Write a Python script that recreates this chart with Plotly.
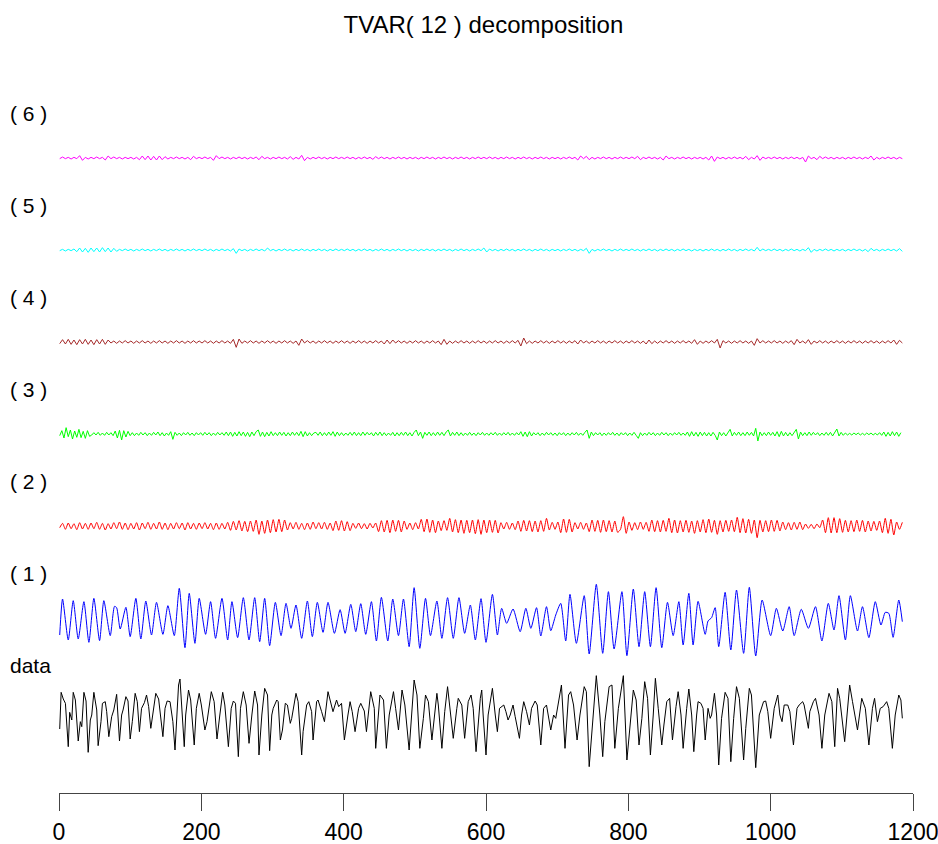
import plotly.graph_objects as go

# ---------------- data ----------------
series_names = ["data", "( 1 )", "( 2 )", "( 3 )", "( 4 )", "( 5 )", "( 6 )"]
x_ticks = [0, 200, 400, 600, 800, 1000, 1200]

black_t = [
    1, 3, 6, 9, 13, 15, 18, 20, 23, 27,
    30, 32, 35, 38, 41, 44, 46, 49, 53, 55,
    59, 61, 65, 67, 70, 74, 77, 81, 85, 88,
    90, 94, 97, 100, 103, 107, 110, 113, 116, 120,
    123, 126, 129, 133, 136, 140, 146, 149, 152, 156,
    160, 163, 168, 170, 173, 176, 178, 182, 185, 190,
    193, 197, 200, 205, 208, 214, 218, 222, 226, 230,
    233, 238, 242, 245, 248, 252, 255, 259, 263, 267,
    271, 275, 279, 281, 285, 289, 293, 296, 299, 301,
    306, 308, 311, 314, 318, 321, 325, 327, 333, 336,
    341, 343, 348, 351, 355, 357, 362, 364, 369, 373,
    378, 382, 385, 390, 393, 397, 401, 406, 409, 412,
    416, 421, 424, 429, 432, 438, 443, 445, 451, 456,
    460, 464, 470, 473, 477, 482, 486, 492, 499, 503,
    507, 512, 515, 519, 524, 531, 533, 538, 542, 546,
    549, 554, 559, 561, 566, 570, 575, 579, 582, 586,
    592, 594, 596, 600, 603, 609, 613, 616, 619, 622,
    625, 628, 631, 634, 638, 641, 647, 650, 653, 657,
    661, 664, 669, 672, 677, 681, 685, 691, 695, 698,
    703, 706, 711, 716, 719, 723, 728, 732, 738, 741,
    745, 751, 755, 760, 764, 767, 773, 777, 781, 786,
    793, 798, 802, 807, 811, 815, 819, 823, 827, 831,
    835, 838, 842, 847, 850, 854, 858, 862, 867, 870,
    874, 877, 882, 885, 889, 892, 896, 898, 902, 905,
    908, 912, 915, 917, 921, 924, 927, 931, 936, 940,
    944, 948, 952, 956, 962, 965, 970, 973, 979, 984,
    990, 993, 996, 1000, 1005, 1010, 1013, 1016, 1019, 1024,
    1027, 1032, 1037, 1040, 1045, 1047, 1053, 1055, 1060, 1063,
    1068, 1072, 1076, 1082, 1086, 1090, 1094, 1097, 1104, 1111,
    1115, 1122, 1128, 1133, 1138, 1143, 1146, 1150, 1154, 1158,
    1163, 1166, 1171, 1175, 1180, 1183, 1185,
]
black_v = [
    -57, 53, 33, 20, -110, -7, -30, 53, 30, -93,
    -35, -50, 53, 27, -127, -30, -15, 53, 0, -107,
    -35, 20, 25, -5, -80, -20, 0, 47, -93, -15,
    0, 40, 27, -87, -35, 50, 25, -65, 5, 22,
    45, 10, -55, 10, 50, 33, -80, 5, 27, 25,
    -35, -120, 75, 93, 5, -110, -15, 60, 30, -105,
    5, 50, 15, -60, -35, 55, 25, -87, -15, 53,
    15, -110, 5, 27, 20, -140, 5, 55, 15, -100,
    -15, 57, 15, -135, -15, 65, 45, -122, -15, 5,
    30, 25, -90, -60, 20, 15, -40, -25, 50, 25,
    -135, -65, 15, 25, -5, -90, 25, 30, -5, -35,
    55, 15, -5, 30, 10, 20, -90, -15, 25, -5,
    -65, 5, 20, -3, -65, 55, 5, -115, 45, 30,
    -115, -15, 55, 5, -60, 60, 15, -120, 90, 45,
    -115, -25, 45, 25, -90, 50, 15, -115, -5, 70,
    10, -85, 5, 35, 15, -85, 25, 45, 5, -125,
    35, 60, -15, -135, -15, 65, -15, -65, 5, 10,
    15, -5, -30, -15, 15, -20, -85, -15, 25, -5,
    -45, 5, 27, 15, -105, 5, 15, -60, -15, -25,
    45, 75, -115, 45, 55, 15, -90, -15, 70, 55,
    -170, -15, 103, -15, -140, -35, 70, 75, -115, 5,
    103, -150, -55, 60, 30, -105, -25, 85, 35, -135,
    -15, 95, 5, -105, -45, 25, 35, -90, 10, 55,
    -15, -115, 5, 63, -15, -125, -15, 25, 20, 5,
    -90, 5, -25, -15, 50, -15, -165, -25, 53, 35,
    -155, -25, 70, 35, -150, -55, 65, 45, -173, -15,
    25, 27, -5, -85, 5, 45, -15, -35, 15, 15,
    -5, -105, 5, 15, 25, 15, -55, -5, 25, 35,
    -15, -115, -15, 50, 25, -110, 65, 35, -95, 75,
    25, -60, 35, 5, -105, 5, 35, -35, 5, 10,
    25, 5, -115, -15, 45, 30, -25,
]

blue_t = [
    1, 5, 13, 20, 27, 35, 42, 49, 57, 63,
    72, 78, 81, 86, 94, 100, 108, 115, 122, 130,
    137, 146, 153, 162, 169, 177, 183, 191, 197, 206,
    213, 220, 229, 237, 243, 251, 259, 267, 275, 282,
    289, 296, 304, 312, 319, 326, 333, 341, 349, 356,
    363, 371, 378, 387, 395, 402, 410, 417, 424, 431,
    439, 446, 453, 462, 469, 477, 484, 492, 499, 507,
    515, 522, 531, 538, 546, 554, 562, 570, 578, 585,
    593, 600, 609, 616, 622, 629, 638, 648, 656, 663,
    671, 677, 685, 691, 698, 705, 712, 718, 727, 738,
    745, 755, 764, 772, 780, 791, 798, 807, 815, 823,
    831, 839, 847, 855, 863, 871, 877, 885, 891, 898,
    908, 912, 917, 922, 927, 936, 944, 952, 962, 970,
    979, 988, 1000, 1008, 1017, 1026, 1033, 1043, 1053, 1063,
    1072, 1081, 1089, 1096, 1105, 1112, 1122, 1129, 1138, 1147,
    1155, 1161, 1166, 1172, 1180, 1185,
]
blue_v = [
    -51, 57, -66, 52, -63, 49, -73, 59, -68, 52,
    -53, 35, 31, -33, 32, -56, 59, -63, 51, -51,
    47, -49, 37, -53, 89, -89, 74, -76, 59, -49,
    49, -61, 59, -66, 49, -59, 61, -66, 61, -71,
    59, -83, 47, -53, 44, -31, 39, -61, 51, -56,
    47, -43, 47, -46, 25, -46, 41, -41, 43, -49,
    49, -69, 62, -69, 57, -53, 57, -86, 91, -91,
    59, -53, 51, -61, 61, -61, 61, -46, 39, -66,
    58, -73, 71, -51, 29, -16, 27, -41, 29, -31,
    31, -54, 34, -38, 9, 44, -69, 71, -76, 67,
    -108, 101, -106, 79, -93, 79, -113, 87, -86, 79,
    -86, 91, -89, 47, -53, 49, -81, 74, -81, 50,
    -49, -9, 1, 31, -86, 77, -96, 84, -106, 92,
    -114, 54, -53, 29, -39, 34, -53, 26, -31, 34,
    -69, 44, -36, 67, -66, 67, -39, 34, -59, 49,
    -21, 17, 14, -58, 54, -11,
]

# red, brown, cyan, magenta: read every 4 time steps (t = 1, 5, 9, ...)
red_v = [
    -5, 8, -10, 9, -8, 7, -11, 10, -9, 8, -10, 9, -8, 11, -10, 8, -12, 7, -9, 10, -8, 12, -10, 9, -11,
    8, -9, 10, -12, 9, -8, 11, -10, 8, -9, 12, -10, 9, -11, 8, -9, 10, -8, 9, -12, 10, -9, 8, -10, 9,
    -8, 10, -9, 8, -11, 9, -10, 8, -9, 11, -13, 14, -12, 16, -15, 14, -17, 15, -16, 18, -25, 15, -22, 18, -20,
    19, -18, 20, -17, 18, -12, 10, -9, 11, -10, 8, -11, 9, -10, 12, -8, 10, -9, 11, -10, 9, -14, 15, -13, 16,
    -15, 13, -14, 8, -7, 9, -8, 7, -9, 8, -6, 9, -17, 16, -18, 17, -20, 18, -16, 17, -18, 15, -10, 9, -11,
    10, -9, 20, -17, 21, -19, 18, -20, 15, -14, 16, -13, 23, -18, 19, -20, 18, -22, 17, -20, 18, -23, 19, -25, 18,
    -20, 18, -19, 17, -21, 10, -9, 11, -10, 9, -11, 15, -16, 17, -15, 16, -17, 15, -18, 16, -16, 23, -12, 11, -10,
    12, -20, 21, -19, 20, -18, 10, -9, 11, -10, 9, -17, 18, -16, 17, -19, 18, -17, 16, -18, 15, -19, -10, 28, -22,
    12, -13, 10, -11, 12, -10, 11, -16, 18, -17, 16, -18, 17, -16, 23, -20, 18, -21, 16, -18, 17, -19, 15, -22, 16,
    -18, 19, -20, 21, -19, 17, -25, 16, -18, 17, -16, 18, -17, 26, -20, 22, -21, 20, -22, 18, -35, 17, -18, 16, -17,
    18, -16, 17, -15, 12, -11, 10, -12, 11, -10, 12, -11, 6, -7, 5, -8, 6, -5, 18, -20, 25, -21, 25, -20, 22,
    -19, 17, -18, 16, -17, 18, -16, 17, -18, 15, -15, 14, -13, 15, -20, 23, -22, 20, -27, 12, -10, 11,
]
brown_v = [
    -5, 7, -6, 8, -7, 6, -8, 7, -6, 8, -7, 6, -8, 7, -6, 8, -7, 6, -3, 3, -4, 3, -3, 4, -3,
    3, -4, 3, -3, 4, -3, 3, -4, 3, -3, 4, -3, 3, -4, 3, -3, 4, -3, 3, -4, 3, -3, 4, -3, 3,
    -3, 4, -3, 3, -4, 3, -3, 4, -3, 3, -4, 8, -16, 9, -4, 3, -3, 4, -3, 3, -4, 3, -3, 4, -3,
    3, -4, 3, -3, 4, -3, 3, -4, 3, -10, 9, -3, 4, -3, 3, -4, 3, -3, 4, -3, 3, -4, 3, -3, 4,
    -3, 3, -4, 3, -3, 4, -3, 3, -4, 3, -3, 4, -3, 3, -6, 6, -5, 6, -3, 4, -3, 3, -4, 3, -3,
    4, -3, 3, -4, 3, -3, 4, -3, 3, -8, 8, -7, 3, -4, 3, -3, 4, -3, 3, -4, 3, -3, 4, -3, 3,
    -4, 3, -3, 4, -3, 3, -4, 3, -3, 4, -3, 5, -12, 12, -5, 3, -4, 3, -3, 4, -3, 3, -4, 3, -3,
    4, -3, 3, -4, 3, -3, 4, -6, 6, -3, 3, -4, 3, -3, 4, -3, 3, -4, 3, -3, 4, -3, 3, -4, 3,
    -3, 4, -3, 3, -4, 3, -6, 6, -5, 3, -4, 3, -3, 4, -3, 3, -4, 3, -3, 4, -3, 3, -4, 7, -7,
    3, -4, 3, -3, 4, -3, 8, -18, 4, -3, 3, -4, 3, -3, 4, -3, 3, -4, 3, -10, 10, -3, 4, -3, 3,
    -3, 4, -3, 3, -4, 3, -3, 4, -8, 8, -3, 3, -4, 7, -7, 3, -3, 4, -3, 3, -4, 3, -3, 4, -3,
    3, -4, 3, -3, 4, -3, 3, -4, 3, -3, 4, -3, 3, -4, 3, -3, 4, -3, 6, -7, 5, -3,
]
cyan_v = [
    -2, 2, -3, 2, -2, 3, -5, 6, -6, 5, -7, 6, -5, 6, -6, 7, -5, 6, -6, 5, -4, 2, -2, 3, -2,
    2, -3, 2, -2, 3, -2, 2, -3, 2, -2, 3, -2, 2, -3, 2, -2, 3, -2, 2, -3, 2, -2, 3, -2, 2,
    -2, 3, -2, 2, -3, 2, -2, 3, -2, 2, -3, 4, -10, 3, -2, 2, -3, 2, -2, 3, -2, 2, -3, 6, -2,
    2, -3, 2, -2, 3, -2, 2, -3, 2, -2, 3, -2, 2, -3, 2, -2, 3, -2, 2, -3, 2, -2, 3, -2, 2,
    -2, 3, -2, 2, -3, 2, -2, 3, -2, 2, -3, 2, -2, 3, -2, 2, -3, 2, -2, 3, -2, 2, -3, 2, -2,
    2, -3, 2, -2, 3, -2, 2, -3, 2, -2, 3, -2, 2, -3, 2, -2, 3, -2, 2, -3, 2, -2, 3, -2, 6,
    -6, 3, -2, 2, -3, 2, -2, 3, -2, 2, -3, 2, -2, 3, -2, 2, -3, 2, -2, 3, -2, 2, -3, 2, -2,
    2, -3, 2, -2, 3, -2, 2, -3, 2, -2, 5, -10, 2, -3, 2, -2, 3, -2, 2, -3, 2, -2, 3, -2, 2,
    -2, 3, -2, 2, -3, 2, -2, 3, -2, 2, -3, 2, -2, 3, -2, 2, -3, 2, -2, 3, -2, 2, -3, 2, -2,
    2, -3, 2, -2, 3, -2, 2, -3, 2, -2, 3, -2, 2, -3, 2, -2, 3, -2, 2, -3, 8, -3, 3, -2, 2,
    -2, 3, -2, 2, -3, 2, -2, 3, -2, 2, -3, 2, -2, 7, -7, 2, -3, 2, -2, 3, -2, 2, -3, 2, -2,
    2, -3, 2, -2, 3, -2, 2, -3, 2, -5, 5, -2, 2, -3, 2, -2, 3, -2, 2, -3, 4, -4,
]
magenta_v = [
    -2, 3, -2, 2, -3, 2, -2, 7, -7, 2, -3, 2, -2, 3, -2, 2, -6, 6, -2, 3, -2, 2, -3, 2, -2,
    2, -3, 2, -5, 6, -5, 6, -6, 5, -6, 6, -5, 4, -3, 2, -2, 3, -2, 2, -3, 2, -5, 5, -2, 2,
    -2, 3, -2, 2, -7, 7, -2, 3, -2, 2, -3, 2, -2, 3, -2, 2, -3, 2, -2, 3, -5, 5, -2, 2, -3,
    2, -2, 3, -2, 2, -3, 4, -4, 2, -3, 8, -8, 2, -3, 2, -2, 3, -2, 2, -3, 2, -2, 3, -2, 2,
    -2, 3, -2, 2, -3, 2, -2, 3, -2, 2, -4, 4, -2, 3, -2, 2, -3, 2, -2, 3, -2, 2, -3, 2, -2,
    2, -3, 2, -2, 3, -2, 2, -3, 2, -2, 3, -2, 2, -3, 2, -2, 3, -2, 2, -3, 2, -2, 3, -2, 2,
    -2, 3, -2, 2, -3, 2, -2, 3, -2, 2, -3, 2, -2, 3, -2, 2, -3, 2, -2, 3, -2, 2, -3, 2, -2,
    2, -3, 2, -2, 3, -2, 2, -6, 6, -2, 5, -5, 2, -3, 2, -2, 3, -2, 2, -3, 2, -2, 3, -2, 2,
    -2, 3, -2, 5, -5, 2, -2, 3, -2, 2, -3, 2, -6, 6, -2, 2, -3, 2, -2, 3, -2, 2, -3, 2, -2,
    2, -3, 2, -6, 6, -10, 3, -2, 2, -3, 2, -2, 3, -2, 2, -3, 5, -5, 2, -3, 7, -7, 3, -2, 2,
    -2, 3, -2, 2, -3, 2, -2, 3, -2, 2, -3, 2, -12, 6, -2, 2, -5, 5, -2, 3, -2, 2, -3, 2, -2,
    2, -3, 2, -2, 3, -2, 2, -3, 2, -2, 6, -6, 2, -3, 2, -2, 3, -2, 2, -3, 2, -2,
]

# green: read every 3 time steps (t = 1, 4, 7, ...)
green_v = [
    -5, 10, -12, 19, -8, 12, -15, 9, -10, 14, -11, 8, -13, 10, -7, -3, 4, -3, 5, -4,
    3, -4, 5, -3, 4, -5, 9, -12, 11, -18, 10, -9, 8, -5, 4, -5, 3, -4, 5, -3,
    4, -5, 3, -4, 5, -3, 6, -5, 4, -6, 3, -4, 7, -16, 5, -4, 3, -5, 4, -3,
    5, -4, 3, -5, 4, -3, 4, -4, 5, -3, 4, -5, 3, -4, 5, -3, 4, -4, 6, -5,
    6, -7, 5, -6, 7, -5, 6, -7, 5, -8, 6, -5, 7, 12, -7, 6, -8, 5, -6, 7,
    -5, 4, -5, 6, -4, 5, -6, 4, -5, 6, -4, 5, -5, 8, -8, 7, -6, 4, -5, 3,
    5, -4, 6, -5, 4, -5, 6, -4, 7, -7, 6, -5, 4, -5, 3, -4, 5, -4, 6, -5,
    4, -5, 6, -4, 5, -3, 4, -6, 5, -4, 6, -5, 4, -5, 3, -4, 5, -6, 4, -5,
    5, -4, 6, -5, 4, -6, 5, 12, -5, 6, -13, 5, -4, 6, -5, 4, -5, 6, -4, 5,
    -5, 6, 12, -6, 5, -4, 6, -5, 4, -5, 3, -4, 5, -4, 3, -5, 4, -3, 5, -4,
    3, -4, 4, -3, 5, -4, 3, -4, 4, -3, 5, -4, 3, -4, 4, -3, 7, -7, 6, -8,
    7, -6, 4, -3, 4, -5, 3, -4, 5, -3, 4, -4, 3, -5, 4, -3, 4, -5, 3, -4,
    4, -3, 5, -4, 3, -4, 5, 12, -13, 6, -5, 4, -3, 4, -5, 3, -4, 4, -3, 5,
    -4, 3, -5, 4, -3, 4, -5, 3, -4, 5, -4, -13, 4, -5, 3, -4, 5, -3, 4, -5,
    3, -4, 5, -3, 4, -5, 3, -4, 4, -3, 5, -4, 3, -4, 6, -7, 7, -6, 5, -7,
    6, -5, 5, -6, 4, -6, 5, -4, -18, 6, -5, 4, -6, 5, 14, -6, 5, -4, 6, -5,
    4, -5, 6, -4, 5, -6, 17, -21, 6, -5, 4, -5, 6, -4, 5, -6, 7, -8, 8, -6,
    5, -6, 4, -5, 6, 14, -15, 6, -5, 4, -5, 6, -4, 5, -3, 4, -5, 3, -4, 5,
    -4, 5, -6, 4, 15, -6, 5, -4, 3, -3, 2, -3, 3, -2, 3, -3, 2, -3, 3, -2,
    3, -3, 2, -3, 4, -4, 6, -7, 5, -6, 7, -5, 6, -7, 4,
]

# ---------------- figure ----------------
t_every3 = list(range(1, 1 + 3 * len(green_v), 3))
t_every4 = list(range(1, 1 + 4 * len(red_v), 4))

series = [
    (black_t, black_v, "#000000", "linear"),
    (blue_t, blue_v, "#0000FF", "spline"),
    (t_every4, red_v, "#FF0000", "spline"),
    (t_every3, green_v, "#00FF00", "linear"),
    (t_every4, brown_v, "#A52A2A", "linear"),
    (t_every4, cyan_v, "#00FFFF", "linear"),
    (t_every4, magenta_v, "#FF00FF", "linear"),
]

FONT = "Liberation Sans, Arial, Helvetica, sans-serif"
SPACING = 276  # vertical offset between stacked components

fig = go.Figure()
annotations = []
for i, ((tx, vals, col, shape), name) in enumerate(zip(series, series_names)):
    off = i * SPACING
    fig.add_trace(go.Scatter(
        x=tx, y=[v + off for v in vals], mode="lines",
        line=dict(color=col, width=1, shape=shape, smoothing=0.6),
        showlegend=False, hoverinfo="skip"))
    annotations.append(dict(
        x=-0.0597, xref="paper", y=off + 135, yref="y",
        text=name, showarrow=False, xanchor="left", yanchor="middle",
        font=dict(family=FONT, size=21, color="#000000")))

fig.update_layout(
    width=938, height=844,
    margin=dict(l=59, r=25, t=95, b=51, autoexpand=False),
    paper_bgcolor="white", plot_bgcolor="white",
    title=dict(text="TVAR( 12 ) decomposition", x=0.497, xref="paper",
               xanchor="center", y=1 - 25 / 844, yref="container",
               yanchor="middle",
               font=dict(family=FONT, size=24, color="#000000")),
    annotations=annotations,
    xaxis=dict(range=[0, 1200], tickvals=x_ticks,
               ticktext=[str(v) for v in x_ticks],
               showgrid=False, zeroline=False, showline=True,
               linecolor="#444444", linewidth=1, automargin=False,
               ticks="outside", ticklen=17, tickcolor="#444444", tickwidth=1,
               ticklabelstandoff=1, ticklabeloverflow="allow",
               tickfont=dict(family=FONT, size=23, color="#000000")),
    yaxis=dict(range=[-249, 1845], visible=False, showgrid=False,
               zeroline=False, automargin=False),
)

fig.write_html("out.html")
